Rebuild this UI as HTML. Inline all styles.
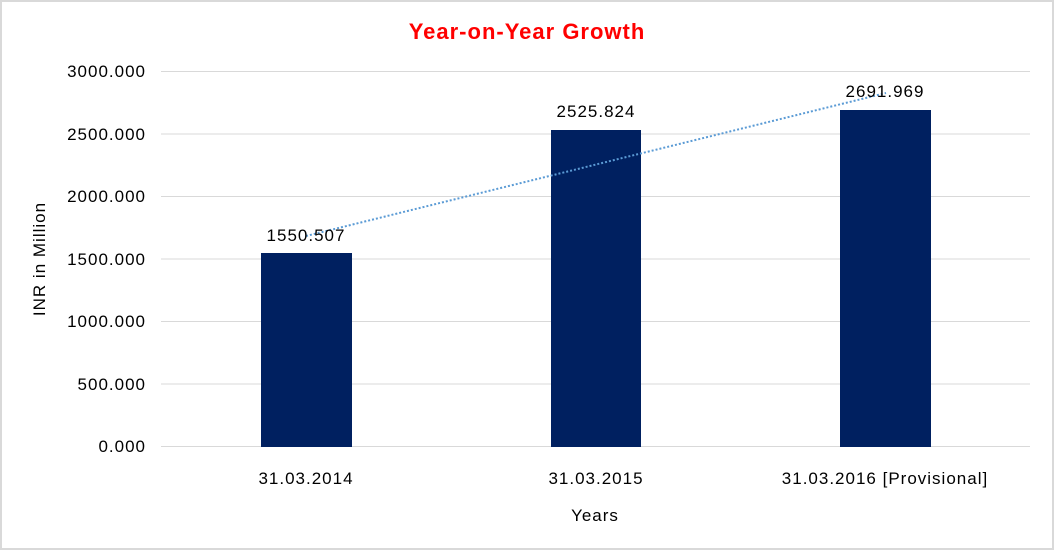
<!DOCTYPE html>
<html><head><style>
html,body{margin:0;padding:0;background:#fff;}
svg{display:block;font-family:"Liberation Sans",Arial,sans-serif;}
</style></head><body>
<svg width="1054" height="550" viewBox="0 0 1054 550" xmlns="http://www.w3.org/2000/svg">
<rect x="1" y="1" width="1052" height="548" fill="#fff" stroke="#d9d9d9" stroke-width="2"/>
<text x="527" y="39" text-anchor="middle" font-size="22" font-weight="bold" fill="#ff0000" letter-spacing="1">Year-on-Year Growth</text>
<g stroke="#d9d9d9" stroke-width="1">
<line x1="161" y1="71.5" x2="1030" y2="71.5"/>
<line x1="161" y1="134" x2="1030" y2="134"/>
<line x1="161" y1="196.5" x2="1030" y2="196.5"/>
<line x1="161" y1="259" x2="1030" y2="259"/>
<line x1="161" y1="321.5" x2="1030" y2="321.5"/>
<line x1="161" y1="384" x2="1030" y2="384"/>
<line x1="161" y1="446.5" x2="1030" y2="446.5"/>
</g>
<g font-size="17" fill="#000" text-anchor="end" letter-spacing="1">
<text x="146" y="77">3000.000</text>
<text x="146" y="140">2500.000</text>
<text x="146" y="202">2000.000</text>
<text x="146" y="265">1500.000</text>
<text x="146" y="327">1000.000</text>
<text x="146" y="390">500.000</text>
<text x="146" y="452">0.000</text>
</g>
<g fill="#002060">
<rect x="261" y="253" width="91" height="194"/>
<rect x="551" y="130" width="90" height="317"/>
<rect x="840" y="110" width="91" height="337"/>
</g>
<line x1="306" y1="236" x2="886" y2="93" stroke="#5b9bd5" stroke-width="2" stroke-dasharray="2,2"/>
<g font-size="17" fill="#000" text-anchor="middle" letter-spacing="1">
<text x="306" y="241">1550.507</text>
<text x="596" y="117">2525.824</text>
<text x="885" y="97">2691.969</text>
<text x="306" y="484">31.03.2014</text>
<text x="596" y="484">31.03.2015</text>
<text x="885" y="484">31.03.2016 [Provisional]</text>
<text x="595" y="521">Years</text>
</g>
<text transform="translate(45,259) rotate(-90)" text-anchor="middle" font-size="17" fill="#000" letter-spacing="1">INR in Million</text>
</svg>
</body></html>
